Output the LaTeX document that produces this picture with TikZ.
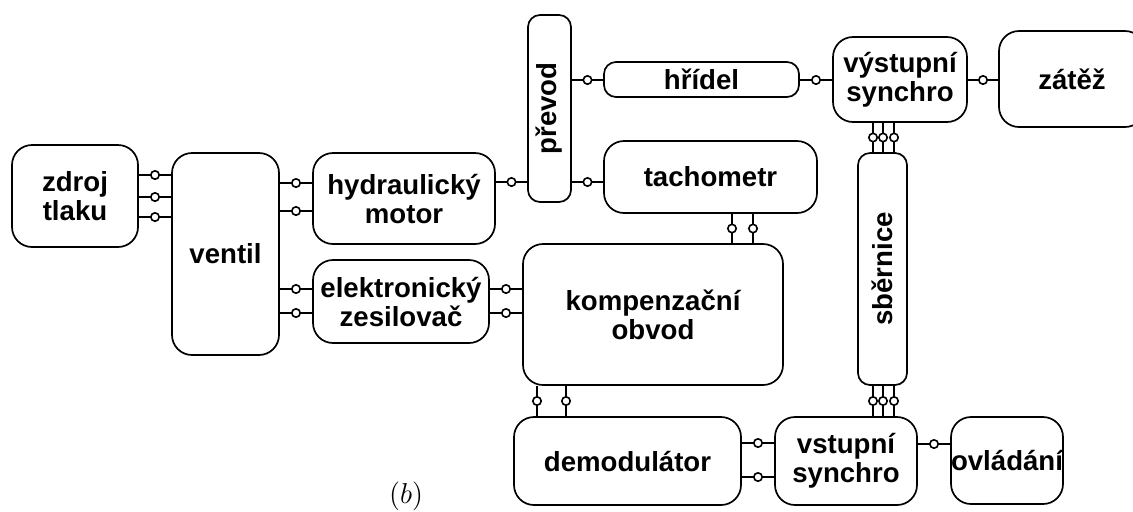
\documentclass[tikz,border=0pt]{standalone}
\usepackage{fontspec}
\setmainfont{Liberation Sans}
\usepackage{tikz}

\newcommand{\blockfont}{\bfseries\fontsize{13.8}{14.5}\selectfont}

\tikzset{
    block/.style={draw, line width=0.85pt, rounded corners=10pt, inner sep=0pt, align=center, font=\blockfont},
    slim/.style={block, rounded corners=6pt},
    vtext/.style={rotate=90, font=\blockfont},
    wire/.style={line width=0.85pt},
    term/.style={circle, draw, line width=0.8pt, fill=white, inner sep=0pt, minimum size=4.2pt}
}

\begin{document}
\begin{tikzpicture}[x=0.5pt, y=-0.5pt]
    \useasboundingbox (0,0) rectangle (1133,511);
    \clip (0,0) rectangle (1133,511);

    % Left part: source, valve, motor, amplifier
    \node[block, minimum width=63pt, minimum height=51pt] (zdroj) at (75,196) {zdroj\\tlaku};
    \node[block, minimum width=53.5pt, minimum height=101pt] (ventil) at (225.5,254) {ventil};
    \node[block, minimum width=91pt, minimum height=45.5pt] (motor) at (404,198.5) {hydraulický\\motor};
    \node[block, minimum width=88pt, minimum height=41.5pt] (zesil) at (401,301.5) {elektronický\\zesilovač};

    % Upper part: gear, shaft, tachometer, output synchro, load
    \node[slim, minimum width=21.5pt, minimum height=93.5pt, label={[vtext]center:{převod}}] (prevod) at (549.5,108.5) {};
    \node[slim, minimum width=97.5pt, minimum height=17.5pt] (hridel) at (701.5,79.5) {hřídel};
    \node[block, minimum width=106.5pt, minimum height=36pt] (tacho) at (710.5,177) {tachometr};
    \node[block, minimum width=67pt, minimum height=42.5pt] (vyst) at (900,79.5) {výstupní\\synchro};
    \node[block, minimum width=73pt, minimum height=48pt] (zatez) at (1072,79) {zátěž};

    % Lower part: compensation, demodulator, bus, input synchro, control
    \node[block, minimum width=130pt, minimum height=70.5pt] (komp) at (653,314.5) {kompenzační\\obvod};
    \node[slim, minimum width=24.5pt, minimum height=116pt, label={[vtext]center:{sběrnice}}] (sbernice) at (882.5,269) {};
    \node[block, minimum width=113.5pt, minimum height=44pt] (demod) at (627.5,461) {demodulátor};
    \node[block, minimum width=71pt, minimum height=44pt] (vstup) at (846,461) {vstupní\\synchro};
    \node[block, minimum width=55pt, minimum height=43.5pt] (ovladani) at (1007,460.5) {ovládání};

    % Caption
    \node[font=\fontsize{15.5}{17}\selectfont] (caption) at (406,496) {$(b)$};

    % Horizontal connections
    \draw[wire] (zdroj.east |- 0,175) -- node[term] {} (ventil.west |- 0,175);
    \draw[wire] (zdroj.east |- 0,197) -- node[term] {} (ventil.west |- 0,197);
    \draw[wire] (zdroj.east |- 0,217) -- node[term] {} (ventil.west |- 0,217);
    \draw[wire] (ventil.east |- 0,183) -- node[term] {} (motor.west |- 0,183);
    \draw[wire] (ventil.east |- 0,211) -- node[term] {} (motor.west |- 0,211);
    \draw[wire] (ventil.east |- 0,289) -- node[term] {} (zesil.west |- 0,289);
    \draw[wire] (ventil.east |- 0,313) -- node[term] {} (zesil.west |- 0,313);
    \draw[wire] (motor.east |- 0,182) -- node[term] {} (prevod.west |- 0,182);
    \draw[wire] (prevod.east |- 0,80) -- node[term] {} (hridel.west |- 0,80);
    \draw[wire] (prevod.east |- 0,182) -- node[term] {} (tacho.west |- 0,182);
    \draw[wire] (hridel.east |- 0,80) -- node[term] {} (vyst.west |- 0,80);
    \draw[wire] (vyst.east |- 0,80) -- node[term] {} (zatez.west |- 0,80);
    \draw[wire] (zesil.east |- 0,289) -- node[term] {} (komp.west |- 0,289);
    \draw[wire] (zesil.east |- 0,313) -- node[term] {} (komp.west |- 0,313);
    \draw[wire] (demod.east |- 0,443) -- node[term] {} (vstup.west |- 0,443);
    \draw[wire] (demod.east |- 0,477) -- node[term] {} (vstup.west |- 0,477);
    \draw[wire] (vstup.east |- 0,444) -- node[term] {} (ovladani.west |- 0,444);

    % Vertical connections
    \draw[wire] (tacho.south -| 732,0) -- node[term] {} (komp.north -| 732,0);
    \draw[wire] (tacho.south -| 753,0) -- node[term] {} (komp.north -| 753,0);
    \draw[wire] (vyst.south -| 873,0) -- node[term] {} (sbernice.north -| 873,0);
    \draw[wire] (vyst.south -| 883,0) -- node[term] {} (sbernice.north -| 883,0);
    \draw[wire] (vyst.south -| 894,0) -- node[term] {} (sbernice.north -| 894,0);
    \draw[wire] (komp.south -| 537,0) -- node[term] {} (demod.north -| 537,0);
    \draw[wire] (komp.south -| 566,0) -- node[term] {} (demod.north -| 566,0);
    \draw[wire] (sbernice.south -| 873,0) -- node[term] {} (vstup.north -| 873,0);
    \draw[wire] (sbernice.south -| 883,0) -- node[term] {} (vstup.north -| 883,0);
    \draw[wire] (sbernice.south -| 894,0) -- node[term] {} (vstup.north -| 894,0);
\end{tikzpicture}
\end{document}
